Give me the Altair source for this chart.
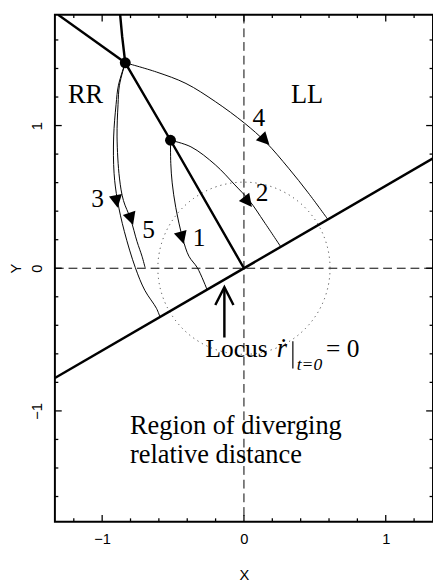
import math
import altair as alt
import pandas as pd

# ---------------- axis extents and ticks ----------------
x_domain = [-1.3333, 1.3333]
y_domain = [-1.777, 1.777]
major_ticks = [-1, 0, 1]
x_minor_ticks = [-1.2, -0.8, -0.6, -0.4, -0.2, 0.2, 0.4, 0.6, 0.8, 1.2]
y_minor_ticks = [-1.6, -1.4, -1.2, -0.8, -0.6, -0.4, -0.2, 0.2, 0.4, 0.6, 0.8, 1.2, 1.4, 1.6]

# ---------------- thick boundary lines ----------------
ll_line_x = [-1.3333, 1.3333]
ll_line_y = [-0.7698, 0.7698]
rr_line_x = [0.0, -0.518, -0.837]
rr_line_y = [0.0, 0.897, 1.440]
upper_line_x = [-0.837, -1.31]
upper_line_y = [1.440, 1.776]
top_curve_x = [-0.873, -0.859, -0.837]
top_curve_y = [1.776, 1.625, 1.440]

# ---------------- trajectories ----------------
traj1_x = [-0.518, -0.516, -0.506, -0.481, -0.432, -0.388, -0.328, -0.26]
traj1_y = [0.897, 0.735, 0.598, 0.427, 0.210, 0.084, 0.002, -0.15]
traj2_x = [-0.518, -0.374, -0.202, -0.064, 0.039, 0.143, 0.26]
traj2_y = [0.897, 0.851, 0.725, 0.584, 0.473, 0.324, 0.15]
traj3_x = [-0.837, -0.885, -0.902, -0.919, -0.916, -0.892, -0.843, -0.766, -0.699, -0.617, -0.592]
traj3_y = [1.440, 1.283, 1.146, 0.920, 0.666, 0.475, 0.256, 0.004, -0.155, -0.281, -0.342]
traj4_x = [-0.837, -0.616, -0.409, -0.202, 0.005, 0.154, 0.315, 0.453, 0.592]
traj4_y = [1.440, 1.375, 1.295, 1.168, 1.016, 0.884, 0.701, 0.529, 0.342]
traj5_x = [-0.837, -0.878, -0.888, -0.895, -0.878, -0.850, -0.800, -0.754, -0.719, -0.697]
traj5_y = [1.440, 1.283, 1.146, 0.920, 0.632, 0.475, 0.347, 0.187, 0.084, 0.004]

# starting points (dots)
dot_x = [-0.837, -0.518]
dot_y = [1.440, 0.897]

# arrow heads on trajectories
arrow_x = [-0.899, -0.797, -0.438, 0.026, 0.146]
arrow_y = [0.471, 0.349, 0.216, 0.468, 0.899]
arrow_angle = [170, 162, 164, 142, 136]

# trajectory labels
num_labels = ["1", "2", "3", "4", "5"]
num_x = [-0.317, 0.128, -1.033, 0.105, -0.673]
num_y = [0.153, 0.473, 0.427, 0.997, 0.210]

# region labels
region_labels = ["RR", "LL", "Region of diverging", "relative distance"]
region_x = [-1.241, 0.331, -0.804, -0.804]
region_y = [1.158, 1.158, -1.160, -1.366]

# locus circle (radius in data units)
circle_r = 0.683

# locus annotation
locus_arrow_x = [-0.138, -0.138]
locus_arrow_y = [-0.486, -0.135]
locus_head_x = [-0.202, -0.138, -0.074]
locus_head_y = [-0.258, -0.133, -0.258]
locus_bar_x = [0.345]
locus_bar_y = [-0.512]
locus_bar_y2 = [-0.703]

W, H = 387, 519
SERIF = "Liberation Serif"
SANS = "Liberation Sans"

xs = alt.Scale(domain=x_domain, nice=False, zero=False)
ys = alt.Scale(domain=y_domain, nice=False, zero=False)
x_axis = alt.Axis(title="X", values=major_ticks, ticks=False, tickSize=0, domain=False, grid=False,
                  labelFont=SANS, labelFontSize=15, labelPadding=10, labelColor="black",
                  titleFont=SANS, titleFontSize=15, titleFontWeight="normal", titleColor="black",
                  titleY=59, titleBaseline="alphabetic")
y_axis = alt.Axis(title="Y", values=major_ticks, ticks=False, tickSize=0, domain=False, grid=False,
                  labelFont=SANS, labelFontSize=15, labelPadding=14, labelColor="black",
                  labelAngle=270, labelAlign="center", labelBaseline="alphabetic",
                  titleFont=SANS, titleFontSize=15, titleFontWeight="normal", titleColor="black",
                  titleAngle=270, titleX=-35, titleY=H / 2, titleAlign="center",
                  titleBaseline="alphabetic")


def X(f="x"):
    return alt.X(f"{f}:Q", scale=xs, axis=x_axis)


def Y(f="y"):
    return alt.Y(f"{f}:Q", scale=ys, axis=y_axis)


def series(xs_, ys_, name):
    return [{"id": name, "i": i, "x": a, "y": b} for i, (a, b) in enumerate(zip(xs_, ys_))]


thick_df = pd.DataFrame(series(ll_line_x, ll_line_y, "ll") + series(rr_line_x, rr_line_y, "rr")
                        + series(upper_line_x, upper_line_y, "up") + series(top_curve_x, top_curve_y, "top")
                        + series(locus_arrow_x, locus_arrow_y, "arrow") + series(locus_head_x, locus_head_y, "head"))
traj_df = pd.DataFrame(series(traj1_x, traj1_y, "1") + series(traj2_x, traj2_y, "2")
                       + series(traj3_x, traj3_y, "3") + series(traj4_x, traj4_y, "4")
                       + series(traj5_x, traj5_y, "5"))
dots_df = pd.DataFrame({"x": dot_x, "y": dot_y})
arrows_df = pd.DataFrame({"x": arrow_x, "y": arrow_y, "a": arrow_angle})
nums_df = pd.DataFrame({"x": num_x, "y": num_y, "t": num_labels})
region_df = pd.DataFrame({"x": region_x, "y": region_y, "t": region_labels})
origin_df = pd.DataFrame({"x": [0.0], "y": [0.0]})

px_per_unit = (W / (x_domain[1] - x_domain[0]) + H / (y_domain[1] - y_domain[0])) / 2
circle_size = math.pi * (circle_r * px_per_unit) ** 2

layers = []

# dashed axes through origin
layers.append(alt.Chart(origin_df).mark_rule(color="black", strokeWidth=1, strokeDash=[9, 5]).encode(x=X()))
layers.append(alt.Chart(origin_df).mark_rule(color="black", strokeWidth=1, strokeDash=[9, 5]).encode(y=Y()))

# dotted locus circle
layers.append(alt.Chart(origin_df).mark_point(shape="circle", filled=False, color="#444",
                                              strokeWidth=1, strokeDash=[1.2, 4], opacity=1)
              .encode(x=X(), y=Y(), size=alt.value(circle_size)))

# trajectories
layers.append(alt.Chart(traj_df).mark_line(color="black", strokeWidth=1, interpolate="catmull-rom", clip=True)
              .encode(x=X(), y=Y(), detail="id:N", order="i:Q"))

# thick lines
layers.append(alt.Chart(thick_df).mark_line(color="black", strokeWidth=2.5, clip=True)
              .encode(x=X(), y=Y(), detail="id:N", order="i:Q"))

# locus bar |
bar_df = pd.DataFrame({"x": locus_bar_x, "y": locus_bar_y, "y2": locus_bar_y2})
layers.append(alt.Chart(bar_df).mark_rule(color="black", strokeWidth=1.2)
              .encode(x=X(), y=Y(), y2="y2:Q"))

# dots
layers.append(alt.Chart(dots_df).mark_point(shape="circle", filled=True, color="black", size=125, opacity=1)
              .encode(x=X(), y=Y()))

# arrow heads
layers.append(alt.Chart(arrows_df).mark_point(shape="M0,-1L-0.95,0.85L0.95,0.85Z", filled=True,
                                              color="black", size=200, opacity=1)
              .encode(x=X(), y=Y(), angle=alt.Angle("a:Q", scale=None)))

# ticks (inward)
def tick_layers(vals, length, axis):
    d = pd.DataFrame({"v": vals})
    m = dict(color="black", strokeWidth=1.3)
    out = []
    if axis == "x":
        out.append(alt.Chart(d).mark_rule(**m).encode(x=X("v"), y=alt.value(H), y2=alt.value(H - length)))
        out.append(alt.Chart(d).mark_rule(**m).encode(x=X("v"), y=alt.value(0), y2=alt.value(length)))
    else:
        out.append(alt.Chart(d).mark_rule(**m).encode(y=Y("v"), x=alt.value(0), x2=alt.value(length)))
        out.append(alt.Chart(d).mark_rule(**m).encode(y=Y("v"), x=alt.value(W), x2=alt.value(W - length)))
    return out


layers += tick_layers(major_ticks, 7, "x")
layers += tick_layers(x_minor_ticks, 3.5, "x")
layers += tick_layers(major_ticks, 7, "y")
layers += tick_layers(y_minor_ticks, 3.5, "y")

# text
layers.append(alt.Chart(nums_df).mark_text(font=SERIF, fontSize=26, color="black", align="center",
                                           baseline="alphabetic")
              .encode(x=X(), y=Y(), text="t:N"))
layers.append(alt.Chart(region_df).mark_text(font=SERIF, fontSize=27, color="black", align="left",
                                             baseline="alphabetic")
              .encode(x=X(), y=Y(), text="t:N"))

locus_df = pd.DataFrame({"x": [-0.271, 0.579], "y": [-0.623, -0.623], "t": ["Locus", "= 0"]})
layers.append(alt.Chart(locus_df).mark_text(font=SERIF, fontSize=26, color="black", align="left",
                                            baseline="alphabetic")
              .encode(x=X(), y=Y(), text="t:N"))
rdot_df = pd.DataFrame({"x": [0.232], "y": [-0.623], "t": ["ṙ"]})
layers.append(alt.Chart(rdot_df).mark_text(font=SERIF, fontSize=27, fontStyle="italic", color="black",
                                           align="left", baseline="alphabetic")
              .encode(x=X(), y=Y(), text="t:N"))
sub_df = pd.DataFrame({"x": [0.372], "y": [-0.715], "t": ["t=0"]})
layers.append(alt.Chart(sub_df).mark_text(font=SERIF, fontSize=18, fontStyle="italic", color="black",
                                          align="left", baseline="alphabetic")
              .encode(x=X(), y=Y(), text="t:N"))

chart = alt.layer(*layers).properties(
    width=W, height=H,
    autosize=alt.AutoSizeParams(type="none"),
    padding={"left": 48, "top": 0, "right": 0, "bottom": 64},
).configure_view(stroke="black", strokeWidth=2)

chart.save("out.html", embed_options={"renderer": "svg", "actions": False})
